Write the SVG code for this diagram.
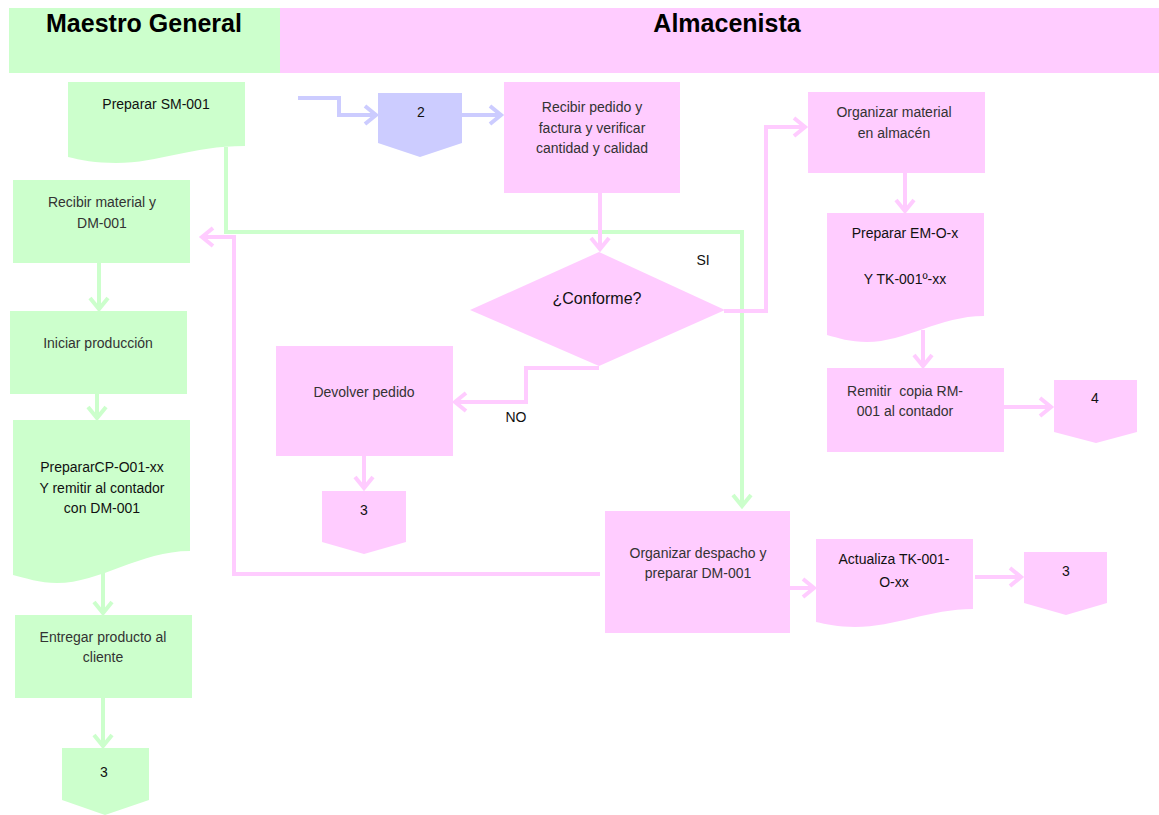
<svg xmlns="http://www.w3.org/2000/svg" width="1159" height="815" viewBox="0 0 1159 815">
  <style>
    .g { fill: #ccffcc; }
    .p { fill: #ffccff; }
    .b { fill: #ccccff; }
    .hd { font-family: "Liberation Sans", Arial, sans-serif; font-size: 25px; font-weight: bold; fill: #000; text-anchor: middle; }
    .t { font-family: "Liberation Sans", Arial, sans-serif; font-size: 14px; fill: #333; text-anchor: middle; }
    .k { fill: #111; }
    .q { font-size: 16px; }
    .cg { fill: none; stroke: #ccffcc; stroke-width: 4; }
    .cp { fill: none; stroke: #ffccff; stroke-width: 4; }
    .cb { fill: none; stroke: #ccccff; stroke-width: 4; }
  </style>
  <defs>
    <marker id="ah-g" markerUnits="userSpaceOnUse" markerWidth="24" markerHeight="24" viewBox="0 0 24 24" refX="13" refY="12" orient="auto">
      <path d="M2,3 L13,12 L2,21" fill="none" stroke="#ccffcc" stroke-width="4"/>
    </marker>
    <marker id="ah-p" markerUnits="userSpaceOnUse" markerWidth="24" markerHeight="24" viewBox="0 0 24 24" refX="13" refY="12" orient="auto">
      <path d="M2,3 L13,12 L2,21" fill="none" stroke="#ffccff" stroke-width="4"/>
    </marker>
    <marker id="ah-b" markerUnits="userSpaceOnUse" markerWidth="24" markerHeight="24" viewBox="0 0 24 24" refX="13" refY="12" orient="auto">
      <path d="M2,3 L13,12 L2,21" fill="none" stroke="#ccccff" stroke-width="4"/>
    </marker>
  </defs>

  <rect width="1159" height="815" fill="#fff"/>

  <!-- swimlane headers -->
  <g id="lane-maestro">
    <rect class="g" x="9" y="8" width="271" height="65"/>
    <text class="hd" x="144" y="32">Maestro General</text>
  </g>
  <g id="lane-almacenista">
    <rect class="p" x="280" y="8" width="879" height="65"/>
    <text class="hd" x="727" y="32">Almacenista</text>
  </g>

  <!-- connectors -->
  <g id="connectors">
    <path class="cg" d="M226,147 V232 H742 V506" marker-end="url(#ah-g)"/>
    <path class="cb" d="M298,98 H339 V115 H376" marker-end="url(#ah-b)"/>
    <path class="cb" d="M462,115 H501" marker-end="url(#ah-b)"/>
    <path class="cp" d="M600,193 V249" marker-end="url(#ah-p)"/>
    <path class="cp" d="M724,311 H766 V127 H805" marker-end="url(#ah-p)"/>
    <path class="cp" d="M599,368 H526 V402 H455" marker-end="url(#ah-p)"/>
    <path class="cp" d="M364,456 V488" marker-end="url(#ah-p)"/>
    <path class="cp" d="M600,574 H234 V237 H202" marker-end="url(#ah-p)"/>
    <path class="cp" d="M905,173 V211" marker-end="url(#ah-p)"/>
    <path class="cp" d="M923,330 V366" marker-end="url(#ah-p)"/>
    <path class="cp" d="M1004,407 H1051" marker-end="url(#ah-p)"/>
    <path class="cp" d="M790,588 H814" marker-end="url(#ah-p)"/>
    <path class="cp" d="M975,577 H1021" marker-end="url(#ah-p)"/>
    <path class="cg" d="M99,263 V309" marker-end="url(#ah-g)"/>
    <path class="cg" d="M97,394 V418" marker-end="url(#ah-g)"/>
    <path class="cg" d="M103,573 V613" marker-end="url(#ah-g)"/>
    <path class="cg" d="M103,698 V746" marker-end="url(#ah-g)"/>
  </g>

  <!-- Maestro General lane -->
  <g id="preparar-sm">
    <path class="g" d="M68,82 H245 V146 C190,146 160,163 116,163 C96,163 80,160 68,157 Z"/>
    <text class="t k" x="156" y="109">Preparar SM-001</text>
  </g>
  <g id="recibir-material">
    <rect class="g" x="13" y="180" width="177" height="83"/>
    <text class="t" x="102" y="207">Recibir material y</text>
    <text class="t" x="102" y="228">DM-001</text>
  </g>
  <g id="iniciar-produccion">
    <rect class="g" x="10" y="311" width="177" height="83"/>
    <text class="t" x="98" y="348">Iniciar producción</text>
  </g>
  <g id="preparar-cp">
    <path class="g" d="M13,420 H190 V551 C140,551 100,583 57,583 C40,583 25,578 13,575 Z"/>
    <text class="t k" x="102" y="472">PrepararCP-O01-xx</text>
    <text class="t k" x="102" y="493">Y remitir al contador</text>
    <text class="t k" x="102" y="513">con DM-001</text>
  </g>
  <g id="entregar-producto">
    <rect class="g" x="15" y="615" width="177" height="83"/>
    <text class="t" x="103" y="642">Entregar producto al</text>
    <text class="t" x="103" y="662">cliente</text>
  </g>
  <g id="ref-3-maestro">
    <polygon class="g" points="62,748 149,748 149,800 105,815 62,800"/>
    <text class="t k" x="104" y="777">3</text>
  </g>

  <!-- Almacenista lane -->
  <g id="ref-2">
    <polygon class="b" points="378,93 462,93 462,143 420,157 378,143"/>
    <text class="t k" x="421" y="117">2</text>
  </g>
  <g id="recibir-pedido">
    <rect class="p" x="504" y="82" width="176" height="111"/>
    <text class="t" x="592" y="112">Recibir pedido  y</text>
    <text class="t" x="592" y="133">factura y verificar</text>
    <text class="t" x="592" y="153">cantidad y calidad</text>
  </g>
  <g id="conforme">
    <polygon class="p" points="470,310 599,252 725,310 599,366"/>
    <text class="t k q" x="597" y="304">¿Conforme?</text>
  </g>
  <g id="label-si">
    <text class="t k" x="703" y="265">SI</text>
  </g>
  <g id="label-no">
    <text class="t k" x="516" y="422">NO</text>
  </g>
  <g id="devolver-pedido">
    <rect class="p" x="276" y="346" width="177" height="110"/>
    <text class="t" x="364" y="397">Devolver pedido</text>
  </g>
  <g id="ref-3-devolver">
    <polygon class="p" points="322,491 406,491 406,542 364,554 322,542"/>
    <text class="t k" x="364" y="515">3</text>
  </g>
  <g id="organizar-material">
    <rect class="p" x="808" y="92" width="177" height="81"/>
    <text class="t" x="894" y="117">Organizar material</text>
    <text class="t" x="894" y="138">en almacén</text>
  </g>
  <g id="preparar-em">
    <path class="p" d="M827,213 H984 V316 C940,316 905,342 867,342 C850,342 838,338 827,335 Z"/>
    <text class="t k" x="905" y="238">Preparar EM-O-x</text>
    <text class="t k" x="905" y="284">Y TK-001º-xx</text>
  </g>
  <g id="remitir-copia">
    <rect class="p" x="827" y="368" width="177" height="84"/>
    <text class="t" x="905" y="396" xml:space="preserve">Remitir  copia RM-</text>
    <text class="t" x="905" y="416">001 al contador</text>
  </g>
  <g id="ref-4">
    <polygon class="p" points="1054,380 1137,380 1137,432 1096,443 1054,432"/>
    <text class="t k" x="1095" y="403">4</text>
  </g>
  <g id="organizar-despacho">
    <rect class="p" x="605" y="511" width="185" height="122"/>
    <text class="t" x="698" y="558">Organizar despacho y</text>
    <text class="t" x="698" y="578">preparar DM-001</text>
  </g>
  <g id="actualiza-tk">
    <path class="p" d="M816,539 H973 V609 C930,609 895,627 855,627 C838,627 826,624 816,622 Z"/>
    <text class="t k" x="894" y="564">Actualiza TK-001-</text>
    <text class="t k" x="894" y="587">O-xx</text>
  </g>
  <g id="ref-3-actualiza">
    <polygon class="p" points="1024,552 1107,552 1107,603 1066,615 1024,603"/>
    <text class="t k" x="1066" y="576">3</text>
  </g>
</svg>
